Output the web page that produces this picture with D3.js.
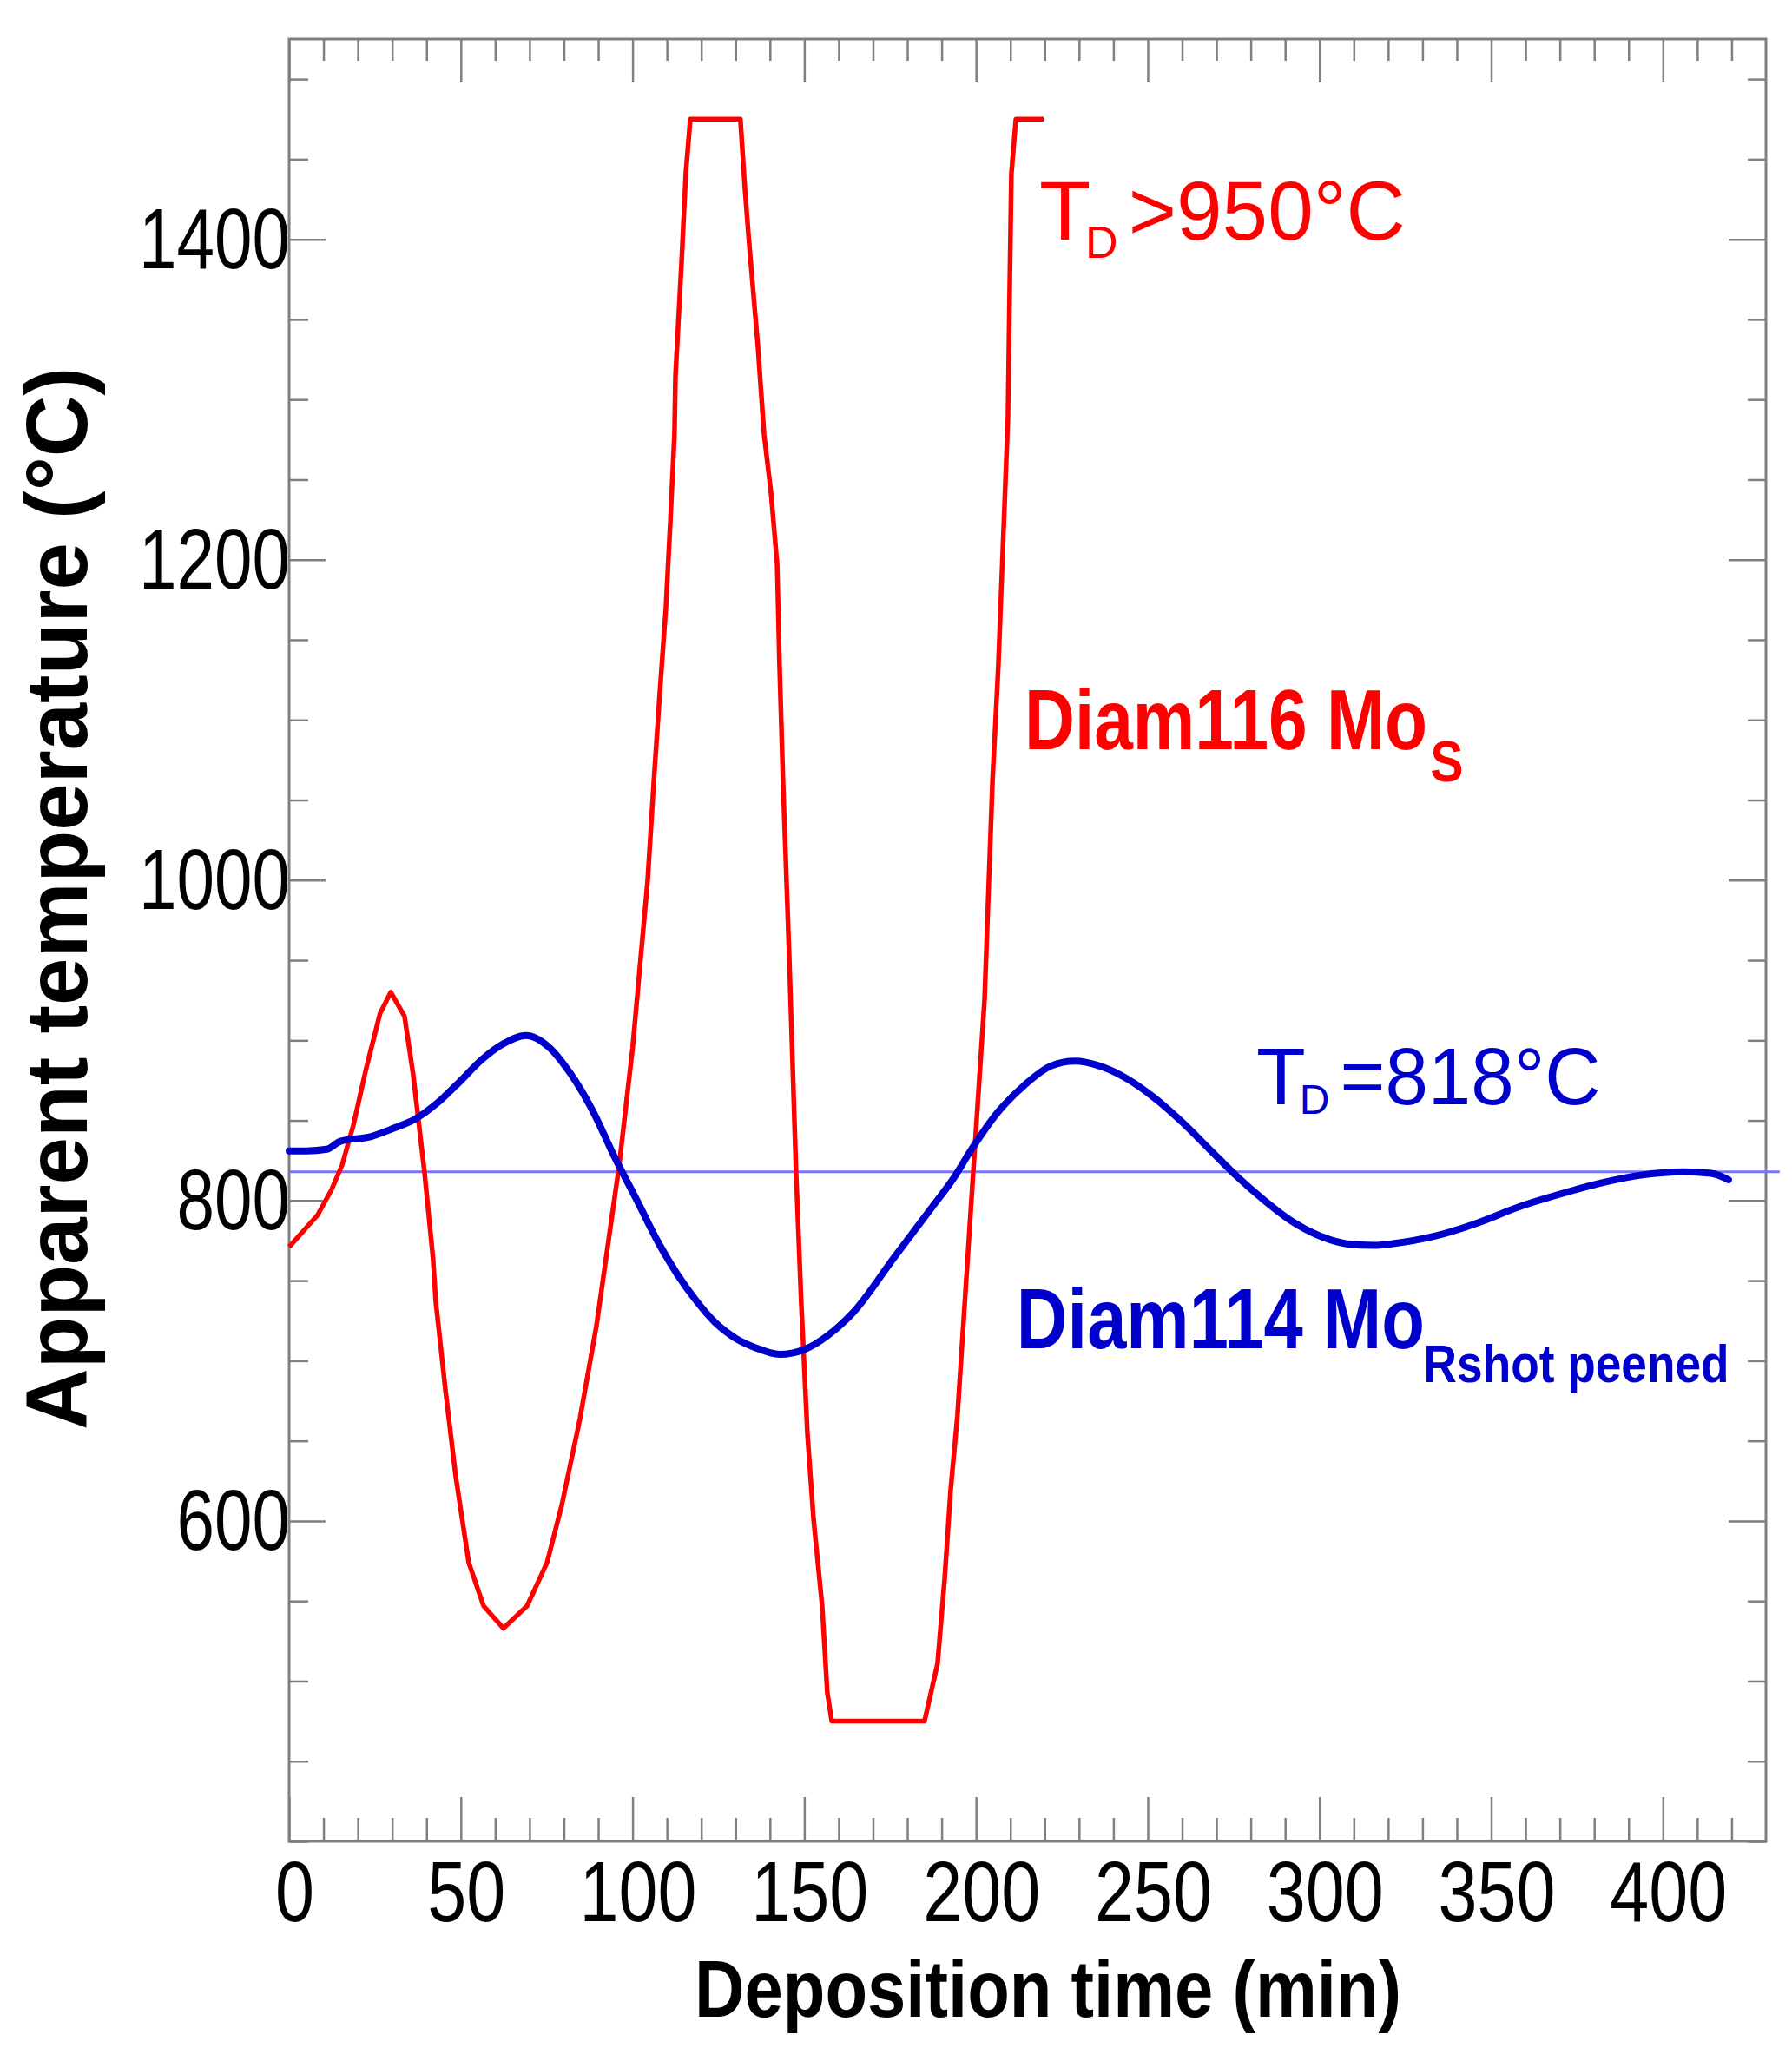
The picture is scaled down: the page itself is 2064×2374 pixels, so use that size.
<!DOCTYPE html>
<html>
<head>
<meta charset="utf-8">
<script src="https://cdn.jsdelivr.net/npm/d3@7"></script>
<style>
  html, body { margin: 0; padding: 0; background: #fff; }
  svg { display: block; font-family: "Liberation Sans", Arial, sans-serif; }
</style>
</head>
<body>
<div id="chart"></div>
<script>
const width = 2064;
const height = 2374;

// Diam116 MoS : pyrometer reading clips at 475 and 1475 °C
const redTime = [0, 8.3, 12.4, 15.4, 18.7, 22.5, 26.5, 29.6, 33.6, 36.1, 39.4, 41.9, 42.7, 45.5, 48.5,
  52.3, 56.6, 62.4, 69.3, 75.1, 79.4, 84.7, 89.5, 93, 96.1, 100, 104.4, 106.2, 107.9, 109.7, 111.0,
  112.2, 112.5, 114.3, 115.5, 116.8, 131.4, 132.7, 134.0, 136.5, 138.3, 140.3, 142.1, 142.8, 143.8,
  145.6, 147.6, 149.1, 150.9, 152.7, 155.2, 156.7, 158.0, 185.0, 188.8, 190.9, 192.6, 194.6, 199.2,
  202.5, 204.8, 206.5, 207.8, 209.3, 209.8, 210.3, 211.6, 219.7];
const redTemp = [771, 791, 807, 822, 847, 883, 917, 930, 915, 879, 818, 764, 737, 682, 628,
  574, 547, 533, 547, 574, 610, 664, 722, 775, 822, 895, 1000, 1062, 1116, 1170, 1224,
  1278, 1315, 1387, 1441, 1475, 1475, 1432, 1396, 1333, 1278, 1242, 1197, 1134, 1062,
  953, 818, 737, 655, 601, 547, 493, 475, 475, 511, 565, 619, 666, 818,
  926, 1062, 1134, 1206, 1289, 1369, 1441, 1475, 1475];

// Diam114 MoR shot peened
const blueTime = [0, 5, 11, 14.9, 23.9, 30.3, 36.8, 43.2, 49.6, 56.1, 62.5, 69, 75.5, 82, 88.4, 94.8,
  101.3, 107.7, 113, 118.7, 124, 130, 136, 142.8, 150, 157, 164.6, 176, 187.6, 193.5, 198.4, 206.3,
  214.1, 221.8, 228.8, 236, 244, 252, 260, 268, 276, 284, 292, 300, 308, 316, 321, 334, 346, 358,
  370, 382, 394, 406, 414, 419.1];
const blueTemp = [831, 831, 832, 837, 840, 845, 851, 861, 874, 888, 898, 903, 896, 879, 856, 827,
  800, 773, 754, 737, 724, 714, 708, 704, 707, 716, 731, 764, 797, 814, 831, 855,
  872, 884, 887, 884, 876, 864, 849, 832, 815, 800, 787, 778, 773, 772, 773, 778, 786, 796,
  804, 811, 816, 818, 817, 813];

const depositionTemp = 818;

const xMajorTicks = [0, 50, 100, 150, 200, 250, 300, 350, 400];
const xMinorTicks = d3.range(10, 430, 10).filter(d => d % 50 !== 0);
const yMajorTicks = [600, 800, 1000, 1200, 1400];
const yMinorTicks = d3.range(400, 1525, 50).filter(d => !yMajorTicks.includes(d));

const tickColor = "#7f7f7f";
const red = "#ff0000";
const blue = "#0000cc";

const svg = d3.select("#chart")
  .append("svg")
  .attr("width", width)
  .attr("height", height);

svg.append("rect").attr("width", width).attr("height", height).attr("fill", "#fff");

const x = d3.scaleLinear().domain([0, 430]).range([333, 2034]);
const y = d3.scaleLinear().domain([400, 1525]).range([2121, 45]);

function styleAxis(g) {
  g.attr("font-family", null).attr("font-size", null);
  g.select(".domain").remove();
  g.selectAll(".tick line").attr("stroke", tickColor).attr("stroke-width", 2.5);
}

const noLabel = () => "";

// bottom
svg.append("g")
  .attr("transform", `translate(0,${y.range()[0]})`)
  .call(d3.axisBottom(x).tickValues(xMajorTicks).tickSizeInner(-51).tickSizeOuter(0).tickFormat(d3.format("d")))
  .call(styleAxis)
  .call(g => g.selectAll(".tick text")
    .attr("y", 92)
    .attr("dy", null)
    .attr("x", 6)
    .attr("fill", "#000")
    .style("font-size", "98px")
    .attr("textLength", d => String(d).length * 45)
    .attr("lengthAdjust", "spacingAndGlyphs"));
svg.append("g")
  .attr("transform", `translate(0,${y.range()[0]})`)
  .call(d3.axisBottom(x).tickValues(xMinorTicks).tickSizeInner(-27).tickSizeOuter(0).tickFormat(noLabel))
  .call(styleAxis);

// top
svg.append("g")
  .attr("transform", `translate(0,${y.range()[1]})`)
  .call(d3.axisTop(x).tickValues(xMajorTicks).tickSizeInner(-50).tickSizeOuter(0).tickFormat(noLabel))
  .call(styleAxis);
svg.append("g")
  .attr("transform", `translate(0,${y.range()[1]})`)
  .call(d3.axisTop(x).tickValues(xMinorTicks).tickSizeInner(-25).tickSizeOuter(0).tickFormat(noLabel))
  .call(styleAxis);

// left
svg.append("g")
  .attr("transform", `translate(${x.range()[0]},0)`)
  .call(d3.axisLeft(y).tickValues(yMajorTicks).tickSizeInner(-42).tickSizeOuter(0).tickFormat(d3.format("d")))
  .call(styleAxis)
  .call(g => g.selectAll(".tick text")
    .attr("x", 1)
    .attr("y", 33)
    .attr("dy", null)
    .attr("fill", "#000")
    .style("font-size", "99px")
    .attr("textLength", d => String(d).length * 43.5)
    .attr("lengthAdjust", "spacingAndGlyphs"));
svg.append("g")
  .attr("transform", `translate(${x.range()[0]},0)`)
  .call(d3.axisLeft(y).tickValues(yMinorTicks).tickSizeInner(-22).tickSizeOuter(0).tickFormat(noLabel))
  .call(styleAxis);

// right
svg.append("g")
  .attr("transform", `translate(${x.range()[1]},0)`)
  .call(d3.axisRight(y).tickValues(yMajorTicks).tickSizeInner(-43).tickSizeOuter(0).tickFormat(noLabel))
  .call(styleAxis);
svg.append("g")
  .attr("transform", `translate(${x.range()[1]},0)`)
  .call(d3.axisRight(y).tickValues(yMinorTicks).tickSizeInner(-21).tickSizeOuter(0).tickFormat(noLabel))
  .call(styleAxis);

// frame
svg.append("rect")
  .attr("x", x.range()[0])
  .attr("y", y.range()[1])
  .attr("width", x.range()[1] - x.range()[0])
  .attr("height", y.range()[0] - y.range()[1])
  .attr("fill", "none")
  .attr("stroke", tickColor)
  .attr("stroke-width", 3);

// axis titles
svg.append("text")
  .attr("transform", "translate(100,1035) rotate(-90)")
  .attr("text-anchor", "middle")
  .style("font-size", "100px")
  .style("font-weight", "bold")
  .attr("textLength", 1224)
  .attr("lengthAdjust", "spacingAndGlyphs")
  .text("Apparent temperature (°C)");

svg.append("text")
  .attr("x", 1207)
  .attr("y", 2323)
  .attr("text-anchor", "middle")
  .style("font-size", "92px")
  .style("font-weight", "bold")
  .attr("textLength", 814)
  .attr("lengthAdjust", "spacingAndGlyphs")
  .text("Deposition time (min)");

// TD reference line
svg.append("line")
  .attr("x1", x(0))
  .attr("x2", x(434))
  .attr("y1", y(depositionTemp))
  .attr("y2", y(depositionTemp))
  .attr("stroke", "#7474ff")
  .attr("stroke-width", 3);

const redData = redTime.map((t, i) => [t, redTemp[i]]);
const blueData = blueTime.map((t, i) => [t, blueTemp[i]]);

svg.append("path")
  .datum(redData)
  .attr("fill", "none")
  .attr("stroke", red)
  .attr("stroke-width", 5.5)
  .attr("stroke-linejoin", "round")
  .attr("d", d3.line().x(d => x(d[0])).y(d => y(d[1])));

svg.append("path")
  .datum(blueData)
  .attr("fill", "none")
  .attr("stroke", blue)
  .attr("stroke-width", 8)
  .attr("stroke-linejoin", "round")
  .attr("stroke-linecap", "round")
  .attr("d", d3.line().curve(d3.curveMonotoneX).x(d => x(d[0])).y(d => y(d[1])));

// annotations
function addText(px, py, str, size, color, opts = {}) {
  const t = svg.append("text")
    .attr("x", px)
    .attr("y", py)
    .attr("fill", color)
    .style("font-size", size + "px")
    .style("font-weight", opts.bold ? "bold" : "normal")
    .text(str);
  if (opts.len) t.attr("textLength", opts.len).attr("lengthAdjust", "spacingAndGlyphs");
  return t;
}

addText(x(218.4), y(1400), "T", 97, red);
addText(x(231.8), y(1388.4), "D", 52, red);
addText(x(244.4), y(1400), ">950°C", 97, red, { len: 319 });

addText(x(214.1), y(1081.7), "Diam116 Mo", 99, red, { bold: true, len: 464 });
addText(x(332.3), y(1061.7), "S", 67, red, { bold: true, len: 38 });

addText(x(281.6), y(860.1), "T", 93, blue);
addText(x(294.2), y(854.1), "D", 48, blue);
addText(x(306), y(860.1), "=818°C", 93, blue, { len: 300 });

addText(x(211.8), y(707.8), "Diam114 Mo", 99, blue, { bold: true, len: 470 });
addText(x(330.3), y(686.7), "Rshot peened", 62, blue, { bold: true, len: 352 });
</script>
</body>
</html>
